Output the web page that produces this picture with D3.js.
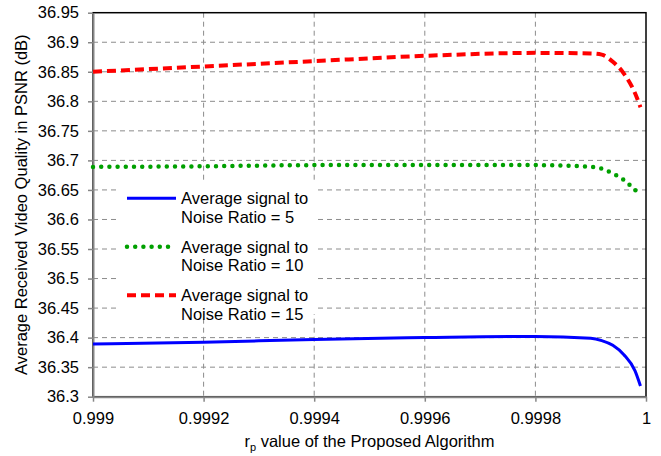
<!DOCTYPE html>
<html>
<head>
<meta charset="utf-8">
<script src="https://cdn.jsdelivr.net/npm/d3@7"></script>
<style>
  body { margin: 0; background: #fff; }
  text { font-family: "Liberation Sans", Arial, sans-serif; fill: #000; }
</style>
</head>
<body>
<div id="chart"></div>
<script>
// data
const rp = [0.999, 0.9992, 0.9994, 0.9996, 0.9998, 0.9999, 0.99992, 0.99994, 0.99996, 0.99998, 0.99999];
const snr5  = [36.389, 36.392, 36.397, 36.400, 36.402, 36.399, 36.395, 36.387, 36.371, 36.344, 36.318];
const snr10 = [36.689, 36.690, 36.692, 36.692, 36.692, 36.689, 36.686, 36.678, 36.667, 36.650, 36.641];
const snr15 = [36.850, 36.859, 36.868, 36.877, 36.882, 36.881, 36.879, 36.867, 36.847, 36.814, 36.790];
const seriesNames = ["Average signal to|Noise Ratio = 5", "Average signal to|Noise Ratio = 10", "Average signal to|Noise Ratio = 15"];
const xTicks = [0.999, 0.9992, 0.9994, 0.9996, 0.9998, 1];
const yTicks = [36.3, 36.35, 36.4, 36.45, 36.5, 36.55, 36.6, 36.65, 36.7, 36.75, 36.8, 36.85, 36.9, 36.95];

const W = 661, H = 456;
const margin = {top: 12.7, right: 15, bottom: 59.3, left: 93};
const iw = W - margin.left - margin.right,
      ih = H - margin.top - margin.bottom;
const fontSize = "16.5px";

const svg = d3.select("#chart").append("svg")
    .attr("width", W)
    .attr("height", H);

const g = svg.append("g")
    .attr("transform", "translate(" + margin.left + "," + margin.top + ")");

const x = d3.scaleLinear().domain([0.999, 1]).range([0, iw]);
const y = d3.scaleLinear().domain([36.3, 36.95]).range([ih, 0]);

// grid lines
g.selectAll(".hgrid")
    .data(yTicks.slice(1, -1))
    .enter().append("line")
    .attr("x1", 0).attr("x2", iw)
    .attr("y1", d => y(d)).attr("y2", d => y(d))
    .style("stroke", "#8c8c8c")
    .style("stroke-width", 1)
    .style("stroke-dasharray", "5 4");

g.selectAll(".vgrid")
    .data(xTicks.slice(1, -1))
    .enter().append("line")
    .attr("y1", 0).attr("y2", ih)
    .attr("x1", d => x(d)).attr("x2", d => x(d))
    .style("stroke", "#8c8c8c")
    .style("stroke-width", 1)
    .style("stroke-dasharray", "5 4");

// plot border (top / right black)
g.append("rect")
    .attr("x", 0).attr("y", 0)
    .attr("width", iw).attr("height", ih)
    .style("fill", "none")
    .style("stroke", "#000")
    .style("stroke-width", 1.5);

// axes
const yAxis = g.append("g")
    .call(d3.axisLeft(y).tickValues(yTicks).tickSize(5).tickSizeOuter(0).tickPadding(9)
        .tickFormat(d => String(+d.toFixed(2))));
const xAxis = g.append("g")
    .attr("transform", "translate(0," + ih + ")")
    .call(d3.axisBottom(x).tickValues(xTicks).tickSize(5).tickSizeOuter(0).tickPadding(11)
        .tickFormat(d => String(+d.toFixed(4))));

[yAxis, xAxis].forEach(a => {
    a.select(".domain").style("stroke", "#868686").style("stroke-width", 2);
    a.selectAll(".tick line").style("stroke", "#868686").style("stroke-width", 1.5);
    a.selectAll(".tick text")
        .style("font-family", "'Liberation Sans', Arial, sans-serif")
        .style("font-size", fontSize)
        .style("fill", "#000");
});

// series
const series = [
    {vals: snr5,  color: "#0000ff", width: 3,   dash: null,    cap: "butt"},
    {vals: snr10, color: "#00a000", width: 4.5, dash: "0 8.2", cap: "round"},
    {vals: snr15, color: "#ff0000", width: 4,   dash: "9 5",   cap: "butt"}
];

const line = d3.line()
    .x(d => x(d[0]))
    .y(d => y(d[1]))
    .curve(d3.curveMonotoneX);

series.forEach(s => {
    g.append("path")
        .datum(rp.map((r, i) => [r, s.vals[i]]))
        .attr("d", line)
        .style("fill", "none")
        .style("stroke", s.color)
        .style("stroke-width", s.width)
        .style("stroke-linecap", s.cap)
        .style("stroke-dasharray", s.dash);
});

// legend
const lg = svg.append("g").attr("transform", "translate(118,183)");
lg.append("rect")
    .attr("width", 200).attr("height", 131)
    .style("fill", "#fff");

seriesNames.forEach((name, i) => {
    const s = series[i];
    const cy = 15.3 + i * 48.5;
    lg.append("line")
        .attr("x1", 9).attr("x2", 58)
        .attr("y1", cy).attr("y2", cy)
        .style("stroke", s.color)
        .style("stroke-width", s.width)
        .style("stroke-linecap", s.cap)
        .style("stroke-dasharray", s.dash);
    const parts = name.split("|");
    parts.forEach((p, k) => {
        lg.append("text")
            .attr("x", 63)
            .attr("y", cy + 6 + k * 18.5)
            .style("font-size", fontSize)
            .text(p);
    });
});

// axis titles
const xt = svg.append("text")
    .attr("x", margin.left + iw / 2)
    .attr("y", 446.5)
    .attr("text-anchor", "middle")
    .style("font-size", fontSize);
xt.append("tspan").text("r");
xt.append("tspan").attr("dy", 4).style("font-size", "11px").text("p");
xt.append("tspan").attr("dy", -4).text(" value of the Proposed Algorithm");

svg.append("text")
    .attr("transform", "translate(27," + (margin.top + ih / 2) + ") rotate(-90)")
    .attr("text-anchor", "middle")
    .style("font-size", fontSize)
    .text("Average Received Video Quality in PSNR (dB)");
</script>
</body>
</html>
